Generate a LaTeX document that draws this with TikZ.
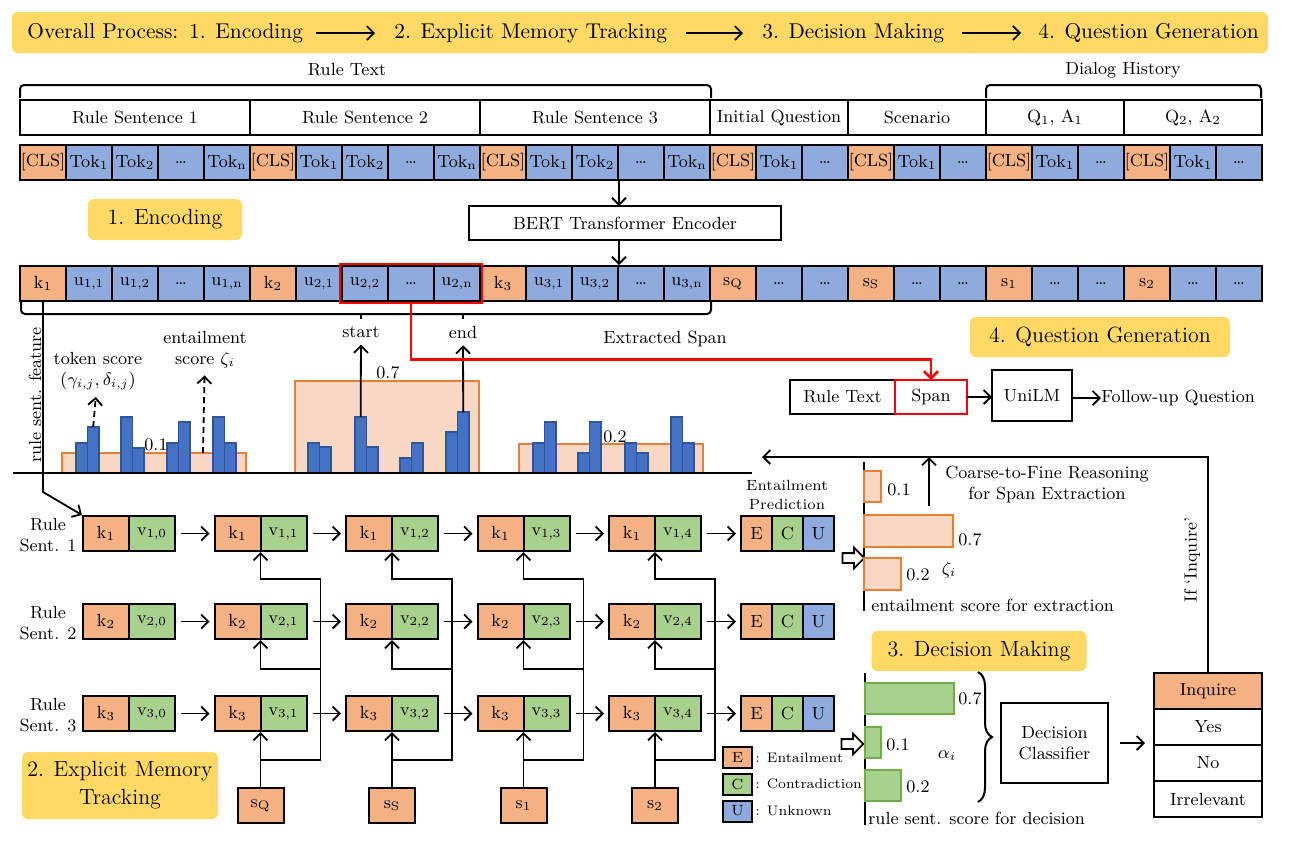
\documentclass[tikz,border=0pt]{standalone}
\usepackage{fontspec}
\usetikzlibrary{positioning, arrows.meta, calc, fit, shapes.arrows, decorations.pathreplacing}

\definecolor{hlyellow}{HTML}{FFD966}
\definecolor{clsorange}{HTML}{F4B183}
\definecolor{tokblue}{HTML}{8FAADC}
\definecolor{vgreen}{HTML}{A9D18E}
\definecolor{barblue}{HTML}{4472C4}
\definecolor{barblueedge}{HTML}{2F5597}
\definecolor{scorefill}{HTML}{F8D8C4}
\definecolor{scoreedge}{HTML}{ED7D31}
\definecolor{greenedge}{HTML}{70AD47}

\begin{document}
\begin{tikzpicture}[
        x=0.5pt, y=-0.5pt,
        >={Straight Barb[length=3.5pt,width=7pt]},
        every node/.style={font=\fontsize{8.8}{10.5}\selectfont},
        cell/.style={draw, line width=1pt, minimum width=23pt, minimum height=17.5pt, inner sep=0pt},
        clscell/.style={cell, fill=clsorange},
        tokcell/.style={cell, fill=tokblue},
        vcell/.style={cell, fill=vgreen},
        ecucell/.style={cell, minimum width=15.5pt},
        lgcell/.style={cell, minimum width=14.5pt, minimum height=10.5pt, font=\fontsize{7.4}{8.8}\selectfont},
        smalltext/.style={font=\fontsize{7.4}{9.6}\selectfont},
        legendtext/.style={font=\fontsize{6.9}{8.4}\selectfont, anchor=west, inner sep=1pt},
        segbox/.style={draw, line width=1pt, minimum height=17.5pt, inner sep=0pt, outer sep=0pt},
        plainbox/.style={draw, line width=1pt, inner sep=0pt, outer sep=0pt, align=center},
        stagebox/.style={fill=hlyellow, rounded corners=3pt, inner sep=0pt, align=center, font=\fontsize{11}{14}\selectfont},
        bannertext/.style={inner sep=0pt, font=\fontsize{10.7}{13}\selectfont},
        flow/.style={->, line width=0.9pt},
        bannerarrow/.style={->, line width=0.8pt},
        spanline/.style={draw=red, line width=1.3pt},
        scorebox/.style={fill=scorefill, draw=scoreedge, line width=0.8pt},
        greenbar/.style={fill=vgreen, draw=greenedge, line width=1pt},
        tokbar/.style={fill=barblue, draw=barblueedge, line width=0.6pt},
        hollowarrow/.style={single arrow, draw, fill=white, line width=0.9pt, minimum height=11pt, inner sep=2pt, single arrow head extend=2.8pt, single arrow head indent=0pt}
    ]
        \useasboundingbox (0,0) rectangle (1303,842);

        % Overall process banner
        \node[stagebox, minimum width=628pt, minimum height=20.5pt] (banner) at (640,32.5) {};
        \node[bannertext, anchor=west] (ov) at (27,33) {Overall Process:\enspace 1. Encoding};
        \node[bannertext, anchor=west] (st2) at (394,33) {2. Explicit Memory Tracking};
        \node[bannertext, anchor=west] (st3) at (762,33) {3. Decision Making};
        \node[bannertext, anchor=west] (st4) at (1038,33) {4. Question Generation};
        \draw[bannerarrow, shorten <=6.5pt, shorten >=9.5pt] (ov.east) -- (st2.west);
        \draw[bannerarrow, shorten <=9pt, shorten >=9.5pt] (st2.east) -- (st3.west);
        \draw[bannerarrow, shorten <=8.5pt, shorten >=8.5pt] (st3.east) -- (st4.west);

        % Input segments
        \node (ruletext) at (347,70) {Rule Text};
        \node (dialog) at (1123,70) {Dialog History};
        \draw[line width=1pt, rounded corners=2pt] (20,98) -- (20,85) -- (711,85) -- (711,98);
        \draw[line width=1pt, rounded corners=2pt] (986,98) -- (986,85) -- (1261,85) -- (1261,98);

        \node[segbox, minimum width=115pt] (rs1) at (135,117.5) {Rule Sentence 1};
        \node[segbox, minimum width=115pt, right=0pt of rs1] (rs2) {Rule Sentence 2};
        \node[segbox, minimum width=115pt, right=0pt of rs2] (rs3) {Rule Sentence 3};
        \node[segbox, minimum width=69pt, right=0pt of rs3] (iq) {Initial Question};
        \node[segbox, minimum width=69pt, right=0pt of iq] (scen) {Scenario};
        \node[segbox, minimum width=69pt, right=0pt of scen] (qa1) {Q\textsubscript{1}, A\textsubscript{1}};
        \node[segbox, minimum width=69pt, right=0pt of qa1] (qa2) {Q\textsubscript{2}, A\textsubscript{2}};

        % Input tokens
        \foreach \sty/\lab [count=\i] in {
            clscell/{[CLS]}, tokcell/Tok\textsubscript{1}, tokcell/Tok\textsubscript{2}, tokcell/\dots, tokcell/Tok\textsubscript{n},
            clscell/{[CLS]}, tokcell/Tok\textsubscript{1}, tokcell/Tok\textsubscript{2}, tokcell/\dots, tokcell/Tok\textsubscript{n},
            clscell/{[CLS]}, tokcell/Tok\textsubscript{1}, tokcell/Tok\textsubscript{2}, tokcell/\dots, tokcell/Tok\textsubscript{n},
            clscell/{[CLS]}, tokcell/Tok\textsubscript{1}, tokcell/\dots,
            clscell/{[CLS]}, tokcell/Tok\textsubscript{1}, tokcell/\dots,
            clscell/{[CLS]}, tokcell/Tok\textsubscript{1}, tokcell/\dots,
            clscell/{[CLS]}, tokcell/Tok\textsubscript{1}, tokcell/\dots}
            \node[\sty] (t\i) at ({46*\i-3},162.5) {\lab};

        % Encoder
        \node[plainbox, minimum width=156pt, minimum height=17pt] (bert) at (625,223) {BERT Transformer Encoder};
        \node[stagebox, minimum width=77pt, minimum height=20.5pt] (enc) at (165,219.5) {1. Encoding};

        \foreach \sty/\lab [count=\i] in {
            clscell/k\textsubscript{1}, tokcell/{u\textsubscript{1,1}}, tokcell/{u\textsubscript{1,2}}, tokcell/\dots, tokcell/{u\textsubscript{1,n}},
            clscell/k\textsubscript{2}, tokcell/{u\textsubscript{2,1}}, tokcell/{u\textsubscript{2,2}}, tokcell/\dots, tokcell/{u\textsubscript{2,n}},
            clscell/k\textsubscript{3}, tokcell/{u\textsubscript{3,1}}, tokcell/{u\textsubscript{3,2}}, tokcell/\dots, tokcell/{u\textsubscript{3,n}},
            clscell/s\textsubscript{Q}, tokcell/\dots, tokcell/\dots,
            clscell/s\textsubscript{S}, tokcell/\dots, tokcell/\dots,
            clscell/s\textsubscript{1}, tokcell/\dots, tokcell/\dots,
            clscell/s\textsubscript{2}, tokcell/\dots, tokcell/\dots}
            \node[\sty] (e\i) at ({46*\i-3},283.5) {\lab};

        \draw[flow] (t13.south east) -- (t13.south east |- bert.north);
        \draw[flow] (e13.north east |- bert.south) -- (e13.north east);

        \node[spanline, fit=(e8)(e10), inner sep=0.5pt] (span) {};

        % Rule sentence features
        \draw[line width=1pt, rounded corners=2pt] ($(e1.south west)+(2,0)$) -- ++(0,12) -| (e15.south east);
        \draw[line width=1pt] (361,313) -- (361,319);
        \draw[line width=1pt] (463,313) -- (463,319);

        \draw[scorebox] (62,473) rectangle (246,453);
        \draw[scorebox] (295,473) rectangle (479,381);
        \draw[scorebox] (519,473) rectangle (703,444);
        \foreach \bx/\by in {76/443, 87.5/427, 121/417, 132.5/448, 167/443, 178.5/422, 213/417, 224.5/443,
                308/443, 319.5/447, 355/417, 366.5/447, 400/458, 411.5/443, 446/432, 457.5/412,
                533/443, 544.5/422, 578/453, 589.5/422, 625/443, 636.5/453, 671/417, 682.5/443}
            \draw[tokbar] (\bx,473) rectangle ++(11.5,\by-473);
        \draw[line width=1pt] (13,473) -- (752,473);

        \node (s01) at (156,445) {0.1};
        \node (s07) at (388,373) {0.7};
        \node (s02) at (615,437) {0.2};
        \node[rotate=90] (rsf) at (35,395) {rule sent. feature};

        \node[align=center] (toklab) at (98,371) {token score\\$(\gamma_{i,j},\delta_{i,j})$};
        \node[align=center] (entlab) at (205,350) {entailment\\score $\zeta_i$};
        \coordinate (tokbartop) at (93.2,427);
        \coordinate (entboxtop) at (203,453);
        \draw[flow, dashed, dash pattern=on 3pt off 2pt] (tokbartop) -- (toklab);
        \draw[flow, dashed, dash pattern=on 3pt off 2pt] (entboxtop) -- (entlab);

        \node (startlab) at (361,332) {start};
        \node (endlab) at (463,332) {end};
        \coordinate (startbar) at (360.7,417);
        \coordinate (endbar) at (463.2,412);
        \draw[flow] (startbar) -- (startlab);
        \draw[flow] (endbar) -- (endlab);
        \node (extr) at (665,339) {Extracted Span};

        % Question generation
        \node[stagebox, minimum width=130pt, minimum height=20pt] (qg) at (1100,337) {4. Question Generation};
        \node[plainbox, minimum width=52.5pt, minimum height=17pt] (rt) at (842.5,397) {Rule Text};
        \node[plainbox, draw=red, line width=1.3pt, minimum width=36pt, minimum height=17pt, right=0pt of rt] (spn) {Span};
        \node[plainbox, minimum width=40pt, minimum height=25.5pt] (unilm) at (1032,395.5) {UniLM};
        \node[anchor=west, inner sep=0pt] (fq) at (1101,398) {Follow-up Question};
        \draw[flow] (spn.east) -- (spn.east -| unilm.west);
        \draw[flow] (unilm.east |- fq.west) -- (fq.west);
        \draw[spanline, ->] (span.south) -- ++(0,55) -| (spn.north);

        % Explicit memory tracking
        \foreach \r/\ry in {1/533.5, 2/621.5, 3/713.5} {
            \node[align=center] (rl\r) at (48,\ry+2) {Rule\\Sent. \r};
            \foreach \c in {0,...,4} {
                \node[clscell] (k\r\c) at ({106+131.5*\c},\ry) {k\textsubscript{\r}};
                \node[vcell] (v\r\c) at ({152+131.5*\c},\ry) {v\textsubscript{\r,\c}};
            }
            \node[ecucell, fill=clsorange] (E\r) at (756.5,\ry) {E};
            \node[ecucell, fill=vgreen] (C\r) at (787.5,\ry) {C};
            \node[ecucell, fill=tokblue] (U\r) at (818.5,\ry) {U};
            \foreach \c [count=\n from 1] in {0,...,3}
                \draw[flow, shorten <=2.5pt, shorten >=2pt] (v\r\c.east) -- (k\r\n.west);
            \draw[flow, shorten <=2.5pt, shorten >=2pt] (v\r4.east) -- (E\r.west);
        }
        \node[smalltext, align=center] (ep) at (787,495) {Entailment\\Prediction};

        \foreach \lab [count=\c] in {Q,S,1,2} {
            \node[clscell] (sc\c) at ({129+131.5*\c},805.5) {s\textsubscript{\lab}};
            \coordinate (ra\c) at ({189+131.5*\c},579);
            \coordinate (rb\c) at ({189+131.5*\c},669);
            \coordinate (rc\c) at ({129+131.5*\c},760);
            \draw[flow] (sc\c.north) -- (sc\c.north |- v3\c.south);
            \draw[flow] (rc\c) -| (ra\c) -| (v1\c.south -| rc\c);
            \draw[flow] (rb\c) -| (v2\c.south -| rc\c);
        }
        \draw[flow] (e1.south) -- ++(0,190) -- (k10.north west);

        \node[stagebox, minimum width=98pt, minimum height=33.5pt] (emt) at (120,785.5) {2. Explicit Memory\\Tracking};

        % Legend
        \node[lgcell, fill=clsorange] (lgE) at (737.5,757.5) {E};
        \node[lgcell, fill=vgreen] (lgC) at (737.5,784) {C};
        \node[lgcell, fill=tokblue] (lgU) at (737.5,811) {U};
        \node[legendtext] (lgEt) at (lgE.east) {: Entailment};
        \node[legendtext] (lgCt) at (lgC.east) {: Contradiction};
        \node[legendtext] (lgUt) at (lgU.east) {: Unknown};

        % Entailment score for extraction
        \node[hollowarrow] (ha1) at (851,558) {};
        \draw[line width=1pt] (864,462) -- (864,611);
        \draw[scorebox, line width=1pt] (864,471) rectangle (881,502);
        \draw[scorebox, line width=1pt] (864,515) rectangle (953,547);
        \draw[scorebox, line width=1pt] (864,558) rectangle (901,590);
        \node (z01) at (899,490) {0.1};
        \node (z07) at (970,540) {0.7};
        \node (z02) at (918,575) {0.2};
        \node (zeta) at (949,570) {$\zeta_i$};
        \node[anchor=west, inner sep=0pt] (esx) at (871,605) {entailment score for extraction};

        % Coarse-to-fine feedback
        \node[plainbox, fill=clsorange, minimum width=54pt, minimum height=18pt] (inq) at (1208,691) {Inquire};
        \node[plainbox, minimum width=54pt, minimum height=18pt, below=0pt of inq] (yes) {Yes};
        \node[plainbox, minimum width=54pt, minimum height=18pt, below=0pt of yes] (no) {No};
        \node[plainbox, minimum width=54pt, minimum height=18pt, below=0pt of no] (irr) {Irrelevant};
        \coordinate (fbend) at (762,457);
        \coordinate (c2f) at (929,506);
        \draw[flow] (inq.north) |- (fbend);
        \draw[flow] (c2f) -- (c2f |- fbend);
        \node[align=center] (c2ftext) at (1047,484) {Coarse-to-Fine Reasoning\\for Span Extraction};
        \node[rotate=90] (ifinq) at (1192,560) {If `Inquire'};

        % Decision making
        \node[stagebox, minimum width=107.5pt, minimum height=20pt] (dm) at (979,651) {3. Decision Making};
        \node[hollowarrow] (ha2) at (850,744) {};
        \draw[line width=1pt] (865,673) -- (865,825);
        \draw[greenbar] (865,683) rectangle (954,714);
        \draw[greenbar] (865,727) rectangle (881,758);
        \draw[greenbar] (865,770) rectangle (901,801);
        \node (a07) at (970,699) {0.7};
        \node (a01) at (898,745) {0.1};
        \node (a02) at (918,787) {0.2};
        \node (alpha) at (947,756) {$\alpha_i$};
        \node[anchor=west, inner sep=0pt] (rsd) at (868,818) {rule sent. score for decision};
        \draw[line width=1pt, decorate, decoration={brace, amplitude=7pt}] (978,672) -- (978,802);

        \node[plainbox, minimum width=53.5pt, minimum height=40pt] (dc) at (1054.5,743) {Decision\\Classifier};
        \draw[flow, shorten <=6pt, shorten >=4.5pt] (dc.east) -- (dc.east -| yes.west);

    \end{tikzpicture}
\end{document}
